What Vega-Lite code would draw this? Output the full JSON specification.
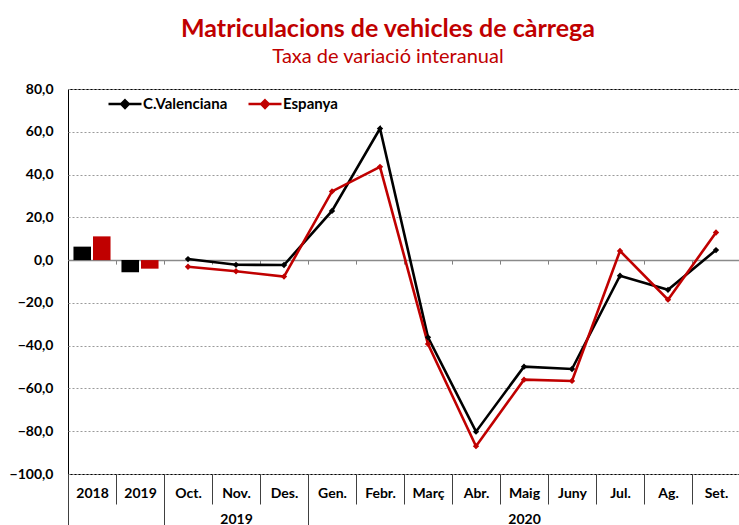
{
  "$schema": "https://vega.github.io/schema/vega-lite/v6.json",
  "autosize": {"type": "none"},
  "width": 672,
  "height": 385,
  "padding": {"left": 68, "top": 89, "right": 0, "bottom": 51},
  "config": {
    "font": "Lato",
    "view": {"stroke": "#000000", "strokeWidth": 1}
  },
  "title": {
    "text": "Matriculacions de vehicles de càrrega",
    "subtitle": "Taxa de variació interanual",
    "color": "#C00000",
    "subtitleColor": "#C00000",
    "fontSize": 25,
    "fontWeight": "bold",
    "subtitleFontSize": 20,
    "subtitleFontWeight": "normal",
    "subtitlePadding": 5,
    "anchor": "middle",
    "dx": -16,
    "offset": 15
  },
  "datasets": {
    "anual": [
      {"cat": "2018", "serie": "C.Valenciana", "v": 6.3},
      {"cat": "2018", "serie": "Espanya", "v": 11.1},
      {"cat": "2019", "serie": "C.Valenciana", "v": -5.7},
      {"cat": "2019", "serie": "Espanya", "v": -4.0}
    ],
    "mensual": [
      {"cat": "Oct.", "serie": "C.Valenciana", "v": 0.5},
      {"cat": "Nov.", "serie": "C.Valenciana", "v": -2.2},
      {"cat": "Des.", "serie": "C.Valenciana", "v": -2.3},
      {"cat": "Gen.", "serie": "C.Valenciana", "v": 23.0},
      {"cat": "Febr.", "serie": "C.Valenciana", "v": 61.5},
      {"cat": "Març", "serie": "C.Valenciana", "v": -36.1},
      {"cat": "Abr.", "serie": "C.Valenciana", "v": -80.2},
      {"cat": "Maig", "serie": "C.Valenciana", "v": -49.8},
      {"cat": "Juny", "serie": "C.Valenciana", "v": -50.9},
      {"cat": "Jul.", "serie": "C.Valenciana", "v": -7.3},
      {"cat": "Ag.", "serie": "C.Valenciana", "v": -13.9},
      {"cat": "Set.", "serie": "C.Valenciana", "v": 4.7},
      {"cat": "Oct.", "serie": "Espanya", "v": -3.1},
      {"cat": "Nov.", "serie": "Espanya", "v": -5.2},
      {"cat": "Des.", "serie": "Espanya", "v": -7.7},
      {"cat": "Gen.", "serie": "Espanya", "v": 32.1},
      {"cat": "Febr.", "serie": "Espanya", "v": 43.6},
      {"cat": "Març", "serie": "Espanya", "v": -39.2},
      {"cat": "Abr.", "serie": "Espanya", "v": -87.0},
      {"cat": "Maig", "serie": "Espanya", "v": -55.9},
      {"cat": "Juny", "serie": "Espanya", "v": -56.5},
      {"cat": "Jul.", "serie": "Espanya", "v": 4.3},
      {"cat": "Ag.", "serie": "Espanya", "v": -18.5},
      {"cat": "Set.", "serie": "Espanya", "v": 12.9}
    ],
    "buit": [{}]
  },
  "layer": [
    {
      "layer": [
        {
          "data": {"name": "anual"},
          "mark": {"type": "bar"},
          "encoding": {
            "x": {
              "field": "cat",
              "type": "nominal",
              "sort": ["2018", "2019", "Oct.", "Nov.", "Des.", "Gen.", "Febr.", "Març", "Abr.", "Maig", "Juny", "Jul.", "Ag.", "Set."],
              "scale": {"domain": ["2018", "2019", "Oct.", "Nov.", "Des.", "Gen.", "Febr.", "Març", "Abr.", "Maig", "Juny", "Jul.", "Ag.", "Set."], "paddingInner": 0, "paddingOuter": 0},
              "axis": {
                "orient": "bottom",
                "title": null,
                "labelAngle": 0,
                "labelFont": "Lato",
                "labelFontWeight": "bold",
                "labelFontSize": 14,
                "labelColor": "#000000",
                "tickBand": "extent",
                "tickSize": 30,
                "tickColor": "#404040",
                "labelPadding": -18,
                "domain": false,
                "grid": false
              }
            },
            "xOffset": {
              "field": "serie",
              "type": "nominal",
              "scale": {"paddingInner": 0.1, "paddingOuter": 0.28}
            },
            "y": {
              "field": "v",
              "type": "quantitative",
              "scale": {"domain": [-100, 80], "nice": false, "zero": false},
              "axis": {
                "title": null,
                "values": [-100, -80, -60, -40, -20, 0, 20, 40, 60, 80],
                "labelExpr": "replace(format(datum.value, '.1f'), '.', ',')",
                "labelFontWeight": "bold",
                "labelFontSize": 14,
                "labelColor": "#000000",
                "labelPadding": 15,
                "ticks": false,
                "domain": false,
                "grid": true,
                "gridColor": "#9a9a9a",
                "gridDash": [2, 2],
                "gridWidth": 1
              }
            },
            "color": {
              "field": "serie",
              "type": "nominal",
              "scale": {"domain": ["C.Valenciana", "Espanya"], "range": ["#000000", "#C00000"]},
              "legend": {
                "title": null,
                "orient": "none",
                "direction": "horizontal",
                "legendX": 39,
                "legendY": -3,
                "padding": 0,
                "symbolType": "M-1,0L1,0M0,-0.23L0.23,0L0,0.23L-0.23,0Z",
                "symbolSize": 1089,
                "symbolStrokeWidth": 2.5,
                "labelFontWeight": "bold",
                "labelFontSize": 15,
                "labelColor": "#000000",
                "labelOffset": 0,
                "columnPadding": 15,
                "encode": {
                  "symbols": {"update": {"fill": {"scale": "color", "field": "value"}, "stroke": {"scale": "color", "field": "value"}}}
                }
              }
            }
          }
        },
        {
          "data": {"name": "mensual"},
          "mark": {"type": "line", "strokeWidth": 2.6, "point": {"filled": true, "shape": "diamond", "size": 40}},
          "encoding": {
            "x": {"field": "cat", "type": "nominal", "sort": ["2018", "2019", "Oct.", "Nov.", "Des.", "Gen.", "Febr.", "Març", "Abr.", "Maig", "Juny", "Jul.", "Ag.", "Set."]},
            "y": {"field": "v", "type": "quantitative"},
            "color": {"field": "serie", "type": "nominal"}
          }
        }
      ]
    },
    {
      "data": {"name": "buit"},
      "mark": {"type": "rule", "opacity": 0},
      "encoding": {
        "x": {
          "datum": 0,
          "type": "quantitative",
          "scale": {"domain": [0, 14], "nice": false, "zero": false},
          "axis": {
            "orient": "bottom",
            "title": null,
            "values": [0, 2, 3.5, 5, 9.5, 14],
            "labelExpr": "datum.value == 3.5 ? '2019' : datum.value == 9.5 ? '2020' : ''",
            "labelFontWeight": "bold",
            "labelFontSize": 14,
            "labelColor": "#000000",
            "labelAngle": 0,
            "labelFlush": false,
            "labelOverlap": false,
            "labelBound": false,
            "tickSize": 52,
            "tickColor": "#404040",
            "tickOpacity": {"condition": {"test": "datum.value == 3.5 || datum.value == 9.5", "value": 0}, "value": 1},
            "labelPadding": -14,
            "domain": false,
            "grid": false
          }
        }
      }
    },
    {
      "data": {"name": "buit"},
      "mark": {"type": "rule", "opacity": 0},
      "encoding": {
        "x": {
          "datum": 0,
          "type": "quantitative",
          "scale": {"domain": [0, 14], "nice": false, "zero": false},
          "axis": {
            "orient": "bottom",
            "offset": -213.9,
            "title": null,
            "values": [1, 2, 3, 4, 5, 6, 7, 8, 9, 10, 11, 12, 13],
            "labels": false,
            "tickSize": 4,
            "tickColor": "#808080",
            "domain": true,
            "domainColor": "#8a8a8a",
            "domainWidth": 1.5,
            "grid": false
          }
        }
      }
    }
  ],
  "resolve": {"scale": {"x": "independent"}}
}
